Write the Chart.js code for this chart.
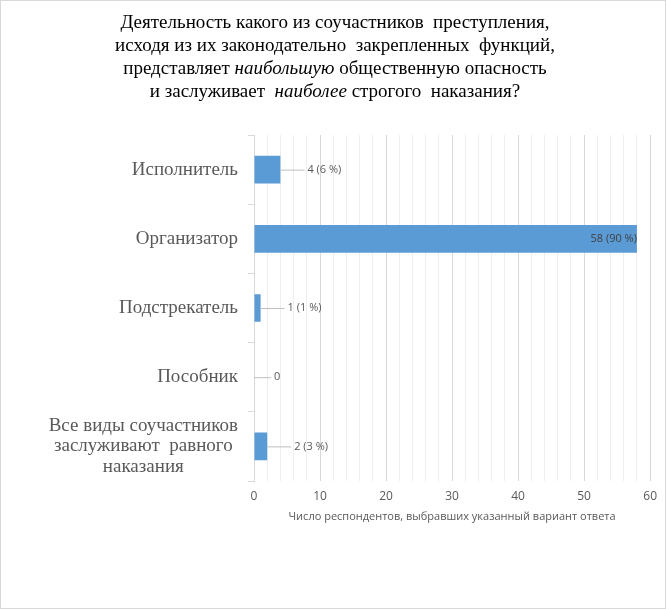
<!DOCTYPE html>
<html>
<head>
<meta charset="utf-8">
<script src="https://cdn.jsdelivr.net/npm/chart.js@4.4.1/dist/chart.umd.min.js"></script>
<style>
  html, body { margin: 0; padding: 0; background: #fff; }
  #wrap { position: relative; width: 666px; height: 609px; box-sizing: border-box; border: 1px solid #d9d9d9; }
  canvas { display: block; }
</style>
</head>
<body>
<div id="wrap"><canvas id="chart" width="664" height="607"></canvas></div>
<script>
// ── Data ─────────────────────────────────────────────
const categories = [
    'Исполнитель',
    'Организатор',
    'Подстрекатель',
    'Пособник',
    ['Все виды соучастников', 'заслуживают  равного', 'наказания']
];
const counts = [4, 58, 1, 0, 2];
const percents = [6, 90, 1, null, 3];
const xTicks = [0, 10, 20, 30, 40, 50, 60];

const titleLines = [
    [['Деятельность какого из соучастников  преступления,', false]],
    [['исходя из их законодательно  закрепленных  функций,', false]],
    [['представляет ', false], ['наибольшую', true], [' общественную опасность', false]],
    [['и заслуживает  ', false], ['наиболее', true], [' строгого  наказания?', false]]
];
const axisTitle = 'Число респондентов, выбравших указанный вариант ответа';

const SERIF = '"Liberation Serif", "DejaVu Serif", serif';
const SANS = '"Open Sans", "Liberation Sans", sans-serif';
const GREY = '#595959';

// ── Title with italic words ──────────────────────────
const titlePlugin = {
    id: 'richTitle',
    afterDraw(chart) {
        const ctx = chart.ctx;
        const cx = 334;
        ctx.save();
        ctx.fillStyle = '#000';
        ctx.textBaseline = 'middle';
        ctx.textAlign = 'left';
        titleLines.forEach((line, i) => {
            const y = 22 + i * 23;
            const fonts = line.map(s => (s[1] ? 'italic ' : '') + '19px ' + SERIF);
            let total = 0;
            line.forEach((s, j) => { ctx.font = fonts[j]; total += ctx.measureText(s[0]).width; });
            let x = cx - total / 2;
            line.forEach((s, j) => {
                ctx.font = fonts[j];
                ctx.fillText(s[0], x, y);
                x += ctx.measureText(s[0]).width;
            });
        });
        ctx.restore();
    }
};

// ── Category labels: block right-aligned, lines centred ──
const catLabelPlugin = {
    id: 'catLabels',
    afterDraw(chart) {
        const ctx = chart.ctx;
        const yScale = chart.scales.y;
        const right = yScale.right - 16;
        const lh = 20.5;
        ctx.save();
        ctx.font = '19px ' + SERIF;
        ctx.fillStyle = GREY;
        ctx.textBaseline = 'middle';
        ctx.textAlign = 'center';
        categories.forEach((c, i) => {
            const lines = Array.isArray(c) ? c : [c];
            const w = Math.max(...lines.map(l => ctx.measureText(l).width));
            const cx = right - w / 2;
            const yc = yScale.getPixelForValue(i);
            lines.forEach((l, k) => {
                ctx.fillText(l, cx, yc + (k - (lines.length - 1) / 2) * lh);
            });
        });
        ctx.restore();
    }
};

// ── Data labels with leader lines ────────────────────
const labelPlugin = {
    id: 'barLabels',
    afterDatasetsDraw(chart) {
        const ctx = chart.ctx;
        const meta = chart.getDatasetMeta(0);
        ctx.save();
        ctx.font = '11px ' + SANS;
        ctx.textBaseline = 'middle';
        meta.data.forEach((bar, i) => {
            const v = counts[i];
            const txt = percents[i] == null ? String(v) : `${v} (${percents[i]} %)`;
            const y = bar.y;
            if (v > 40) {
                ctx.fillStyle = '#404040';
                ctx.textAlign = 'right';
                ctx.fillText(txt, bar.x, y);
                return;
            }
            const len = v === 0 ? 17 : 24;
            ctx.strokeStyle = '#bfbfbf';
            ctx.lineWidth = 1;
            ctx.beginPath();
            ctx.moveTo(bar.x, y + 0.5);
            ctx.lineTo(bar.x + len, y + 0.5);
            ctx.stroke();
            ctx.fillStyle = GREY;
            ctx.textAlign = 'left';
            ctx.fillText(txt, bar.x + len + 3, y);
        });
        ctx.restore();
    }
};

new Chart(document.getElementById('chart'), {
    type: 'bar',
    data: {
        labels: categories,
        datasets: [{
            data: counts,
            backgroundColor: '#5b9bd5',
            borderWidth: 0,
            barPercentage: 0.4,
            categoryPercentage: 1,
        }]
    },
    options: {
        indexAxis: 'y',
        responsive: false,
        animation: false,
        events: [],
        layout: { padding: { top: 134, right: 14, left: 0, bottom: 81 } },
        plugins: {
            legend: { display: false },
            tooltip: { enabled: false },
            title: { display: false }
        },
        scales: {
            x: {
                min: xTicks[0],
                max: xTicks[xTicks.length - 1],
                afterFit: s => { s.height = 46; },
                ticks: {
                    stepSize: 2,
                    autoSkip: false,
                    maxRotation: 0,
                    padding: 8,
                    color: GREY,
                    font: { family: SANS, size: 12 },
                    callback: v => (xTicks.includes(v) ? v : '')
                },
                grid: {
                    drawTicks: false,
                    color: c => (c.tick && c.tick.value % 10 === 0 ? '#d9d9d9' : '#eeeeee')
                },
                border: { display: false },
                title: {
                    display: true,
                    text: axisTitle,
                    color: GREY,
                    font: { family: SANS, size: 11 },
                    padding: { top: 4, bottom: 4 }
                }
            },
            y: {
                afterFit: s => { s.width = 253; },
                ticks: { display: false },
                grid: {
                    drawOnChartArea: false,
                    drawTicks: true,
                    tickLength: 6,
                    color: '#d9d9d9'
                },
                border: { display: true, color: '#d9d9d9' }
            }
        }
    },
    plugins: [titlePlugin, catLabelPlugin, labelPlugin]
});
</script>
</body>
</html>
